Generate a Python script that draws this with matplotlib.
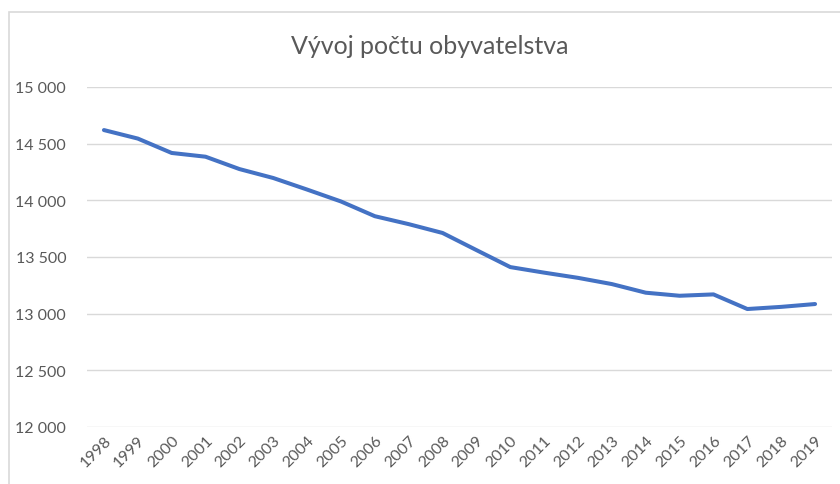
import matplotlib.pyplot as plt
import matplotlib.patches as patches
from matplotlib.ticker import FuncFormatter

plt.rcParams['font.family'] = ['Lato', 'DejaVu Sans']

roky = [str(r) for r in range(1998, 2020)]
obyvatelia = [14620, 14545, 14418, 14385, 14276, 14197, 14095, 13990, 13860, 13790,
              13712, 13561, 13411, 13362, 13316, 13261, 13185, 13158, 13170, 13041,
              13060, 13085]

sediva = '#595959'

fig = plt.figure(figsize=(8.4, 4.85), dpi=100)
ax = fig.add_axes([87/840, 1 - 428/485, (832 - 87)/840, (428 - 88)/485])

# ram grafu
fig.patches.append(patches.Rectangle((9/840, -0.1), 1.0, 1.1 - 13/485,
                                     transform=fig.transFigure, fill=False,
                                     edgecolor='#d9d9d9', linewidth=1.2))

x = list(range(len(roky)))
ax.plot(x, obyvatelia, color='#4472C4', linewidth=2.9, solid_capstyle='round',
        solid_joinstyle='round', zorder=3)

ax.set_xlim(-0.5, len(roky) - 0.5)
ax.set_ylim(12000, 15000)
ax.set_yticks(range(12000, 15001, 500))
ax.yaxis.set_major_formatter(FuncFormatter(lambda v, p: f'{int(v):,}'.replace(',', ' ')))
ax.set_xticks(x)
ax.set_xticklabels(roky, rotation=45, ha='right', rotation_mode='anchor')

ax.grid(axis='y', color='#d9d9d9', linewidth=1)
ax.set_axisbelow(True)
for s in ax.spines.values():
    s.set_visible(False)
ax.tick_params(length=0, colors=sediva, labelsize=11.5)
ax.tick_params(axis='y', pad=15)
ax.tick_params(axis='x', pad=4)

fig.text(430/840, 1 - 47/485, 'Vývoj počtu obyvatelstva', ha='center', va='center',
         fontsize=18, color=sediva)

fig.savefig('out.png', dpi=100)
